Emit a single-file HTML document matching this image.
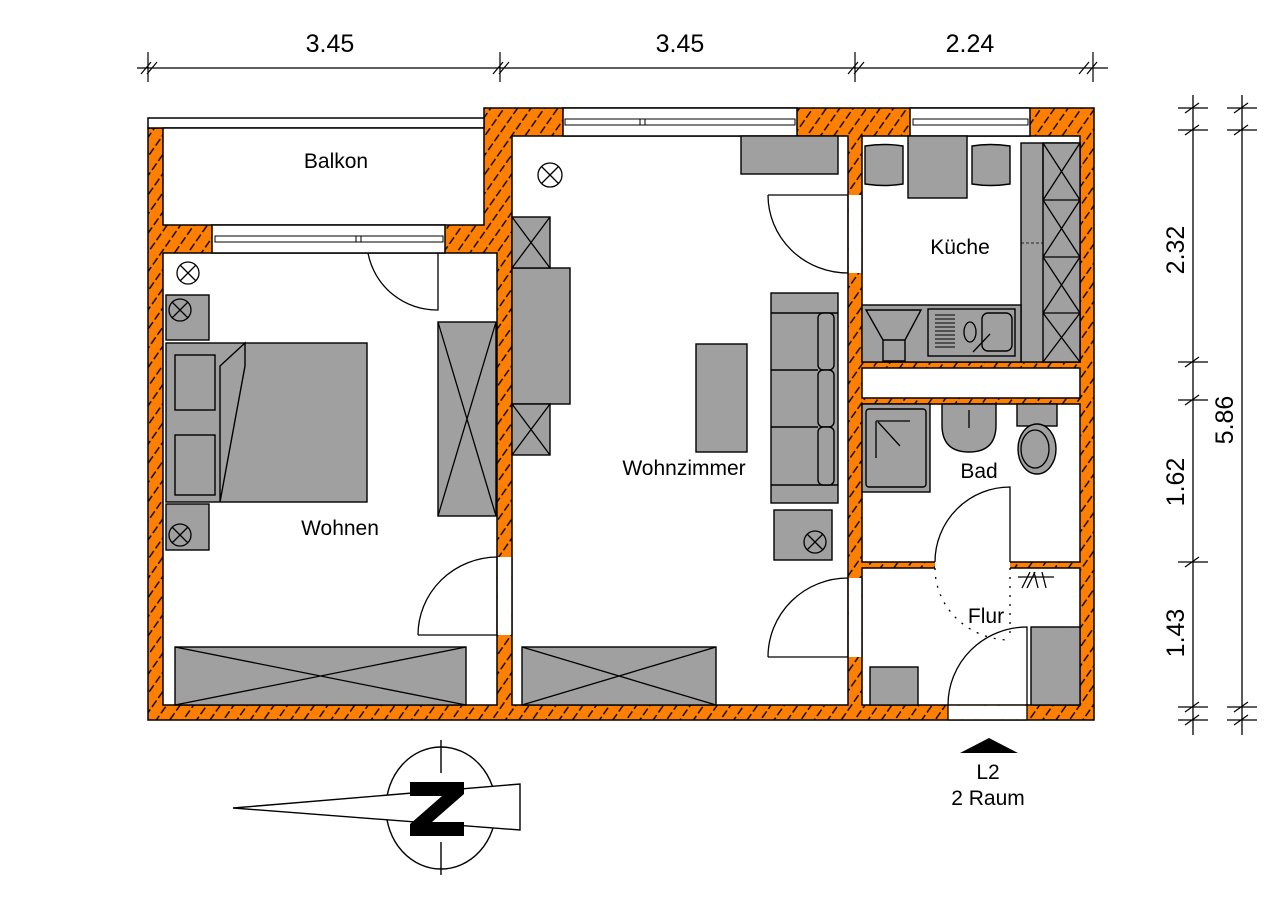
<!DOCTYPE html>
<html><head><meta charset="utf-8"><style>
html,body{margin:0;padding:0;background:#fff;}
svg{display:block;}
text{font-family:"Liberation Sans",Arial,sans-serif;fill:#000;}
</style></head><body>
<svg width="1280" height="905" viewBox="0 0 1280 905" xmlns="http://www.w3.org/2000/svg">
<defs>
<pattern id="h" patternUnits="userSpaceOnUse" width="11" height="11" patternTransform="rotate(35)">
<rect width="11" height="11" fill="#ff8000"/>
<line x1="2" y1="0" x2="2" y2="8" stroke="#000" stroke-width="1.4"/>
</pattern>
</defs>
<g fill="none" stroke="#000" stroke-width="1.3">
<!-- top dimension -->
<line x1="137" y1="68" x2="1108" y2="68"/>
<g stroke-width="1.2">
<path d="M148 52V82 M141 74l10-12 M147 74l10-12"/>
<path d="M500 52V82 M493 74l10-12 M499 74l10-12"/>
<path d="M855 52V82 M848 74l10-12 M854 74l10-12"/>
<path d="M1093 52V82 M1079 74l10-12 M1087 74l10-12"/>
</g>
<!-- right dims -->
<line x1="1193" y1="95" x2="1193" y2="735"/>
<line x1="1242" y1="95" x2="1242" y2="735"/>
<g stroke-width="1.2">
<path d="M1178 108h30 M1185 113l14-10 M1178 130h30 M1185 135l14-10 M1178 362h30 M1185 367l14-10 M1178 400h30 M1185 405l14-10 M1178 562h30 M1185 567l14-10 M1178 707h30 M1185 712l14-10 M1178 720h30 M1185 725l14-10"/>
<path d="M1227 108h30 M1234 113l14-10 M1227 130h30 M1234 135l14-10 M1227 707h30 M1234 712l14-10 M1227 720h30 M1234 725l14-10"/>
</g>
</g>
<text x="330" y="52" font-size="25" text-anchor="middle">3.45</text>
<text x="680" y="52" font-size="25" text-anchor="middle">3.45</text>
<text x="970" y="52" font-size="25" text-anchor="middle">2.24</text>
<text transform="translate(1184,250) rotate(-90)" font-size="25" text-anchor="middle">2.32</text>
<text transform="translate(1184,482) rotate(-90)" font-size="25" text-anchor="middle">1.62</text>
<text transform="translate(1184,633) rotate(-90)" font-size="25" text-anchor="middle">1.43</text>
<text transform="translate(1233,420) rotate(-90)" font-size="25" text-anchor="middle">5.86</text>

<!-- walls -->
<path d="M148 128H484V108H1094V720H148Z" fill="url(#h)" stroke="#000" stroke-width="1.5"/>
<g fill="#fff" stroke="#000" stroke-width="1.5">
<rect x="148" y="118" width="336" height="10"/>
<rect x="163" y="128" width="321" height="97"/>
<rect x="163" y="253" width="334" height="452"/>
<rect x="512" y="136" width="336" height="569"/>
<rect x="862" y="136" width="218" height="226"/>
<rect x="862" y="368" width="218" height="30"/>
<rect x="862" y="404" width="218" height="158"/>
<rect x="862" y="568" width="218" height="137"/>
<!-- windows -->
<rect x="212" y="225" width="233" height="28"/>
<rect x="563" y="108" width="234" height="28"/>
<rect x="910" y="108" width="120" height="28"/>
</g>
<g fill="none" stroke="#000" stroke-width="1">
<rect x="215" y="236" width="228" height="6"/>
<line x1="356" y1="236" x2="356" y2="242"/><line x1="361" y1="236" x2="361" y2="242"/>
<rect x="565" y="119" width="230" height="6"/>
<line x1="640" y1="119" x2="640" y2="125"/><line x1="645" y1="119" x2="645" y2="125"/>
<rect x="913" y="119" width="115" height="6"/>
</g>
<!-- door openings -->
<g fill="#fff" stroke="none">
<rect x="497.8" y="557" width="13.5" height="78"/>
<rect x="848.8" y="195" width="12.5" height="78"/>
<rect x="848.8" y="578" width="12.5" height="79"/>
<rect x="935" y="561" width="75" height="8"/>
<rect x="948" y="705.8" width="79" height="13.5"/>
</g>
<g fill="none" stroke="#000" stroke-width="1.3">
<path d="M497 557V635 M512 557V635 M848 195V273 M862 195V273 M848 578V657 M862 578V657 M948 705V720 M1027 705V720 M948 720H1027"/>
<!-- door arcs -->
<path d="M368 253A70 70 0 0 0 438 310V253"/>
<path d="M418 635A80 78 0 0 1 497 557 M418 635H497"/>
<path d="M768 195A80 78 0 0 0 848 273 M768 195H848"/>
<path d="M768 657A80 79 0 0 1 848 578 M768 657H848"/>
<path d="M935 562A75 75 0 0 1 1010 487V562"/>
<path d="M948 705A79 78 0 0 1 1027 627V705"/>
<path d="M935 568A75 72 0 0 0 1010 640" stroke-dasharray="2 7"/>
<path d="M1010 568V640" stroke-dasharray="2 7"/>
<path d="M1018 577h36 M1022 588l8-16 M1027 588l8-16 M1038 588l-4-16 M1046 588l-4-16"/>
</g>

<!-- furniture -->
<g fill="#a0a0a0" stroke="#000" stroke-width="1.4">
<!-- Wohnen -->
<rect x="166" y="295" width="43" height="45"/>
<rect x="166" y="504" width="43" height="46"/>
<rect x="166" y="343" width="201" height="159"/>
<rect x="175" y="355" width="40" height="55"/>
<rect x="175" y="435" width="40" height="60"/>
<path d="M220 502V366L245 343V366Z"/>
<rect x="438" y="322" width="58" height="194"/>
<rect x="175" y="647" width="291" height="58"/>
<!-- Wohnzimmer -->
<rect x="741" y="136" width="97" height="38"/>
<rect x="512" y="268" width="58" height="136"/>
<rect x="512" y="217" width="38" height="51"/>
<rect x="512" y="404" width="38" height="51"/>
<rect x="696" y="344" width="51" height="108"/>
<rect x="771" y="293" width="67" height="210"/>
<line x1="771" y1="313" x2="838" y2="313"/>
<line x1="771" y1="485" x2="838" y2="485"/>
<rect x="818" y="313" width="16" height="57" rx="5"/>
<rect x="818" y="370" width="16" height="57" rx="5"/>
<rect x="818" y="427" width="16" height="58" rx="5"/>
<path d="M771 370H818 M771 427H818" fill="none"/>
<rect x="774" y="510" width="58" height="50"/>
<rect x="522" y="647" width="194" height="58"/>
<!-- Küche -->
<path d="M865 146Q885 143 903 146V184Q885 187 865 184Z"/>
<rect x="908" y="136" width="59" height="62"/>
<path d="M972 146Q990 143 1010 146V184Q990 187 972 184Z"/>
<rect x="1021" y="143" width="59" height="219"/>
<rect x="1043" y="143" width="37" height="219"/>
<rect x="862" y="305" width="159" height="57"/>
<path d="M866 310H921L905 340H883Z M883 340H905V361H883Z"/>
<rect x="928" y="309" width="87" height="47"/>
<rect x="982" y="313" width="30" height="38" rx="6"/>
<!-- Bad -->
<rect x="862" y="404" width="68" height="88"/>
<rect x="866" y="409" width="60" height="78" rx="3"/>
<path d="M942 404H996V425Q996 452 969 452Q942 452 942 425Z"/>
<rect x="1017" y="404" width="40" height="22"/>
<ellipse cx="1037" cy="449" rx="19" ry="25"/>
<!-- Flur -->
<rect x="1031" y="627" width="49" height="78"/>
<rect x="870" y="667" width="48" height="38"/>
</g>
<g fill="none" stroke="#000" stroke-width="1.3">
<path d="M438 322L496 516M496 322L438 516"/>
<path d="M175 647L466 705M466 647L175 705"/>
<path d="M512 217L550 268M550 217L512 268M512 404L550 455M550 404L512 455"/>
<path d="M522 647L716 705M716 647L522 705"/>
<path d="M1043 143V200H1080 M1043 200L1080 143M1080 200L1043 143 M1043 257H1080M1043 200L1080 257M1080 200L1043 257 M1043 313H1080M1043 257L1080 313M1080 257L1043 313 M1043 313L1080 362M1080 313L1043 362"/>
<line x1="1021" y1="243" x2="1043" y2="243" stroke-dasharray="3 2" stroke-width="0.8"/>
<path d="M935 315h20M935 319h20M935 323h20M935 327h20M935 331h20M935 335h20M935 339h20M935 343h20M935 347h20" stroke-width="1"/>
<ellipse cx="970" cy="332" rx="6" ry="10"/>
<path d="M973 352L990 334"/>
<path d="M878 422L900 446M876 421V458M876 421H910"/>
<path d="M969 410V428"/>
<ellipse cx="1035" cy="449" rx="14" ry="19"/>
<!-- x circles -->
<circle cx="188" cy="273" r="11"/><path d="M180 265L196 281M196 265L180 281"/>
<circle cx="180" cy="310" r="11"/><path d="M172 302L188 318M188 302L172 318"/>
<circle cx="180" cy="535" r="11"/><path d="M172 527L188 543M188 527L172 543"/>
<circle cx="550" cy="175" r="12"/><path d="M541.5 166.5L558.5 183.5M558.5 166.5L541.5 183.5"/>
<circle cx="815" cy="542" r="11"/><path d="M807 534L823 550M823 534L807 550"/>
</g>

<!-- labels -->
<g font-size="21">
<text x="336" y="168" text-anchor="middle">Balkon</text>
<text x="340" y="535" text-anchor="middle">Wohnen</text>
<text x="684" y="475" text-anchor="middle">Wohnzimmer</text>
<text x="960" y="254" text-anchor="middle">Küche</text>
<text x="979" y="478" text-anchor="middle">Bad</text>
<text x="986" y="623" text-anchor="middle">Flur</text>
<text x="988" y="779" text-anchor="middle">L2</text>
<text x="988" y="805" text-anchor="middle">2 Raum</text>
</g>
<path d="M960 753H1018L989 738Z" fill="#000"/>

<!-- compass -->
<g fill="none" stroke="#000" stroke-width="1.4">
<ellipse cx="441" cy="808" rx="55" ry="61"/>
<path d="M441 740V773 M441 842V875"/>
<path d="M233 808L520 784V830Z" fill="#fff"/>
</g>
<path d="M410 782H464V794L432 822H464V836H410V824L442 796H410Z" fill="#000"/>
</svg>
</body></html>
